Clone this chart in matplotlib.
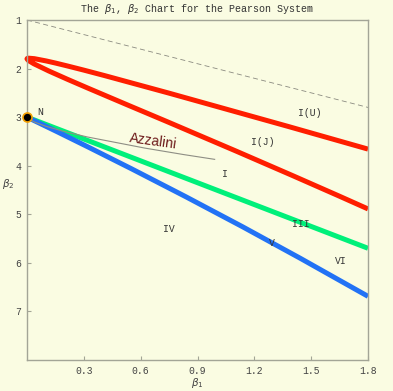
import matplotlib
matplotlib.use("Agg")
import matplotlib.pyplot as plt

# ---- data ----
# Beta(1,b) boundary loop: upper branch (I(U)/I(J)) then lower branch (I(J)/I)
red_b1 = [1.8, 1.380, 0.747, 0.408, 0.298, 0.214, 0.150, 0.1014, 0.0388, 0.0085, 0.0020,
          0.0, 0.0067, 0.036, 0.1152, 0.2137, 0.32, 0.5355, 0.741, 1.102, 1.4, 1.646, 1.8]
red_b2 = [3.658, 3.193, 2.503, 2.143, 2.030, 1.947, 1.886, 1.843, 1.796, 1.786, 1.790,
          1.8, 1.832, 1.901, 2.050, 2.221, 2.40, 2.757, 3.095, 3.696, 4.2, 4.622, 4.890]
# Type III line
green_b1 = [0.0, 1.8]
green_b2 = [3.0, 5.7]
# Type V curve
blue_b1 = [0.0, 0.0535, 0.1616, 0.3264, 0.551, 0.84, 1.138, 1.444, 1.8]
blue_b2 = [3.0, 3.1006, 3.305, 3.622, 4.062, 4.642, 5.257, 5.909, 6.689]
# Azzalini skew-normal curve
azz_b1 = [0.0, 0.0015, 0.0118, 0.0398, 0.0943, 0.1842, 0.3183, 0.6217, 0.8276, 0.9906]
azz_b2 = [3.0, 3.011, 3.045, 3.102, 3.181, 3.283, 3.408, 3.637, 3.771, 3.869]
# impossible-region boundary
limit_b1 = [0.0, 1.8]
limit_b2 = [1.0, 2.8]
# region labels
labels = ["N", "I(U)", "I(J)", "I", "III", "V", "VI", "IV"]
label_b1 = [0.068, 1.495, 1.242, 1.047, 1.447, 1.295, 1.658, 0.747]
label_b2 = [2.89, 2.91, 3.51, 4.17, 5.20, 5.59, 5.96, 5.30]
xticks = [0.3, 0.6, 0.9, 1.2, 1.5, 1.8]
xticklabels = ["0.3", "0.6", "0.9", "1.2", "1.5", "1.8"]
yticks = [1, 2, 3, 4, 5, 6, 7]
yticklabels = ["1", "2", "3", "4", "5", "6", "7"]

BG = "#FAFCE2"
FRAME = "#A3A596"
MONO = "Liberation Mono"

fig = plt.figure(figsize=(3.93, 3.91), dpi=100, facecolor=BG)
ax = fig.add_axes([27/393, 1-360/391, 341/393, 340/391], facecolor=BG)

ax.plot(limit_b1, limit_b2, color="#8A8A80", lw=0.6, dashes=(6, 4))
ax.plot(red_b1, red_b2, color="#FF1E00", lw=3.6, solid_capstyle="butt",
        solid_joinstyle="round", clip_on=False)
ax.plot(green_b1, green_b2, color="#00F07A", lw=3.6, solid_capstyle="butt")
ax.plot(blue_b1, blue_b2, color="#2272F5", lw=3.6, solid_capstyle="butt")
ax.plot(azz_b1, azz_b2, color="#8E8E84", lw=0.8, clip_on=False)
ax.plot([0], [3], marker="o", ms=6.5, mfc="black", mec="#F5A000", mew=1.2, clip_on=False, zorder=5)

ax.text(0.665, 3.5, "Azzalini", family="Liberation Sans", fontsize=10, color="#6E1C1C",
        rotation=-8, ha="center", va="center", rotation_mode="anchor")

for t, bx, by in zip(labels, label_b1, label_b2):
    ax.text(bx, by, t, family=MONO, fontsize=7, color="#333333", ha="center", va="center")

ax.set_xlim(0, 1.8)
ax.set_ylim(8, 1)
ax.set_xticks(xticks)
ax.set_xticklabels(xticklabels, family=MONO, fontsize=7, color="#444444")
ax.set_yticks(yticks)
ax.set_yticklabels(yticklabels, family=MONO, fontsize=7, color="#444444")
ax.tick_params(direction="in", length=3, width=0.8, color=FRAME, pad=4)
for s in ax.spines.values():
    s.set_color(FRAME)
    s.set_linewidth(1.0)

fig.text(197/393, 1-9/391, r"The $\beta_1$, $\beta_2$ Chart for the Pearson System",
         family=MONO, fontsize=7.2, color="#333333", ha="center", va="center")
fig.text(197/393, 1-382.5/391, r"$\beta_1$", fontsize=7.5, color="#444444", ha="center", va="center")
fig.text(8/393, 1-184/391, r"$\beta_2$", fontsize=7.5, color="#444444", ha="center", va="center")

fig.savefig("out.png", dpi=100, facecolor=BG)
